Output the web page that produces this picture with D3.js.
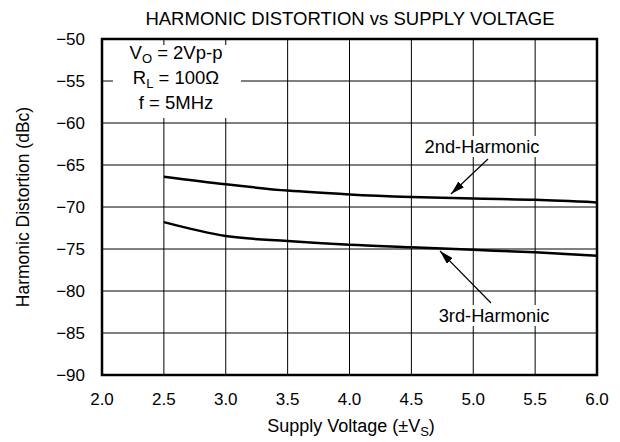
<!DOCTYPE html>
<html>
<head>
<meta charset="utf-8">
<script src="https://cdn.jsdelivr.net/npm/d3@7"></script>
<style>
  body { margin: 0; background: #fff; }
  text { font-family: "Liberation Sans", Arial, sans-serif; fill: #000; }
</style>
</head>
<body>
<svg width="620" height="442"></svg>
<script>
const svg = d3.select('svg');

// data
const voltage = [2.5, 3.0, 3.5, 4.0, 4.5, 5.0, 5.5, 6.0];
const second = [-66.4, -67.3, -68.05, -68.5, -68.8, -69.0, -69.15, -69.45];
const third = [-71.8, -73.45, -74.05, -74.5, -74.8, -75.1, -75.4, -75.8];
const xTicks = [2.0, 2.5, 3.0, 3.5, 4.0, 4.5, 5.0, 5.5, 6.0];
const yTicks = [-50, -55, -60, -65, -70, -75, -80, -85, -90];
const conditions = ['V|O| = 2Vp-p', 'R|L| = 100Ω', 'f = 5MHz'];

const plotLeft = 102, plotRight = 597, plotTop = 39, plotBottom = 375;

const x = d3.scaleLinear().domain([2, 6]).range([plotLeft, plotRight]);
const y = d3.scaleLinear().domain([-90, -50]).range([plotBottom, plotTop]);

// grid
svg.append('g')
  .selectAll('line')
  .data(xTicks)
  .join('line')
  .attr('x1', d => x(d)).attr('x2', d => x(d))
  .attr('y1', plotTop).attr('y2', plotBottom)
  .attr('stroke', '#000').attr('stroke-width', 1);

svg.append('g')
  .selectAll('line')
  .data(yTicks)
  .join('line')
  .attr('x1', plotLeft).attr('x2', plotRight)
  .attr('y1', d => y(d)).attr('y2', d => y(d))
  .attr('stroke', '#000').attr('stroke-width', 1);

// white patch behind the conditions
svg.append('rect')
  .attr('x', 113).attr('y', 45)
  .attr('width', 128).attr('height', 73)
  .attr('fill', '#fff');

const cond = svg.append('g');
conditions.forEach((c, i) => {
  const parts = c.split('|');
  const t = cond.append('text')
    .attr('x', 176).attr('y', 59 + i * 25)
    .attr('text-anchor', 'middle')
    .attr('font-size', 18.5);
  t.append('tspan').text(parts[0]);
  if (parts.length > 1) {
    t.append('tspan').attr('dy', 4).attr('font-size', 13).text(parts[1]);
    t.append('tspan').attr('dy', -4).text(parts[2]);
  }
});

// curves
const line = d3.line()
  .x(d => x(d[0]))
  .y(d => y(d[1]))
  .curve(d3.curveMonotoneX);

[second, third].forEach(s => {
  svg.append('path')
    .attr('d', line(voltage.map((v, i) => [v, s[i]])))
    .attr('fill', 'none')
    .attr('stroke', '#000')
    .attr('stroke-width', 2.5);
});

// border
svg.append('rect')
  .attr('x', plotLeft).attr('y', plotTop)
  .attr('width', plotRight - plotLeft).attr('height', plotBottom - plotTop)
  .attr('fill', 'none')
  .attr('stroke', '#000')
  .attr('stroke-width', 2.5);

// annotations with arrows
svg.append('defs').append('marker')
  .attr('id', 'arrow')
  .attr('viewBox', '0 0 14 8')
  .attr('refX', 14).attr('refY', 4)
  .attr('markerWidth', 14).attr('markerHeight', 8)
  .attr('markerUnits', 'userSpaceOnUse')
  .attr('orient', 'auto')
  .append('path')
  .attr('d', 'M0,0 L14,4 L0,8 Z')
  .attr('fill', '#000');

function label(txt, cx, base, tail, tip) {
  const t = svg.append('text')
    .attr('x', cx).attr('y', base)
    .attr('text-anchor', 'middle')
    .attr('font-size', 18.3)
    .text(txt);
  const b = t.node().getBBox();
  svg.insert('rect', () => t.node())
    .attr('x', b.x - 3).attr('y', b.y)
    .attr('width', b.width + 6).attr('height', b.height)
    .attr('fill', '#fff');
  svg.append('line')
    .attr('x1', tail[0]).attr('y1', tail[1])
    .attr('x2', tip[0]).attr('y2', tip[1])
    .attr('stroke', '#000').attr('stroke-width', 1.2)
    .attr('marker-end', 'url(#arrow)');
}

label('2nd-Harmonic', 482, 153, [488, 159], [451, 194]);
label('3rd-Harmonic', 494, 322, [491, 303], [440, 251]);

// tick labels
svg.append('g')
  .selectAll('text')
  .data(xTicks)
  .join('text')
  .attr('x', d => x(d))
  .attr('y', plotBottom + 30)
  .attr('text-anchor', 'middle')
  .attr('font-size', 17)
  .text(d => d.toFixed(1));

svg.append('g')
  .selectAll('text')
  .data(yTicks)
  .join('text')
  .attr('x', plotLeft - 17)
  .attr('y', d => y(d) + 6)
  .attr('text-anchor', 'end')
  .attr('font-size', 17)
  .text(d => '\u2212' + Math.abs(d));

// titles
svg.append('text')
  .attr('x', 350).attr('y', 25)
  .attr('text-anchor', 'middle')
  .attr('font-size', 18.5)
  .text('HARMONIC DISTORTION vs SUPPLY VOLTAGE');

const xt = svg.append('text')
  .attr('x', 351).attr('y', 432)
  .attr('text-anchor', 'middle')
  .attr('font-size', 18);
xt.append('tspan').text('Supply Voltage (±V');
xt.append('tspan').attr('dy', 4).attr('font-size', 13).text('S');
xt.append('tspan').attr('dy', -4).text(')');

svg.append('text')
  .attr('transform', `translate(29,${(plotTop + plotBottom) / 2}) rotate(-90)`)
  .attr('text-anchor', 'middle')
  .attr('font-size', 17.5)
  .text('Harmonic Distortion (dBc)');
</script>
</body>
</html>
